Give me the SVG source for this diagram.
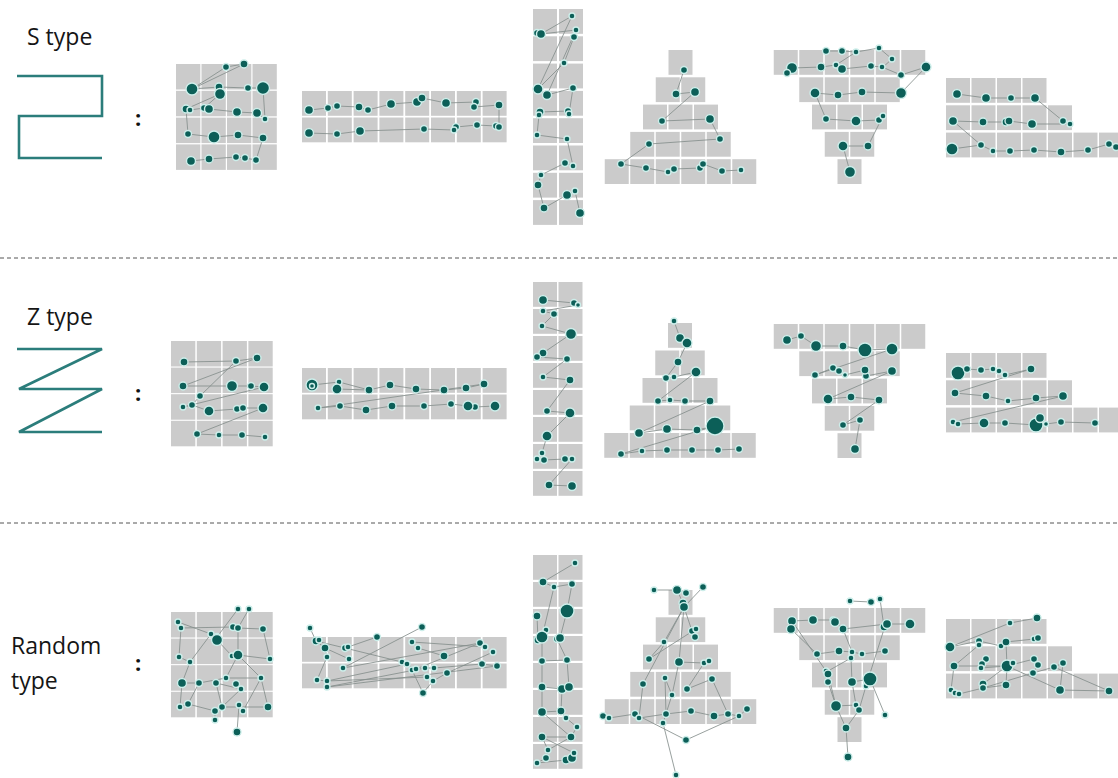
<svg xmlns="http://www.w3.org/2000/svg" xmlns:xlink="http://www.w3.org/1999/xlink" width="1118" height="778" viewBox="0 0 1118 778">
<style>
.lbl{font-family:"Open Sans","Noto Sans","Liberation Sans",sans-serif;font-size:23px;fill:#151515}
.col{font-family:"Open Sans","Noto Sans","Liberation Sans",sans-serif;font-size:22px;font-weight:bold;fill:#111}
.icon{fill:none;stroke:#2b7d7b;stroke-width:2.6;stroke-linejoin:miter}
.sep{stroke:#555;stroke-width:1;stroke-dasharray:4 3}
.k{fill:#cbcbcb}
.ln{fill:none;stroke:#858f8d;stroke-width:0.85}
.nd circle{fill:#0c5f58;stroke:#cdeeea;stroke-width:1.4}
</style>
<defs>
<rect id="c" class="k" width="24" height="24.8"/>
<rect id="t" class="k" width="24.3" height="25.5"/>
</defs>
<rect width="1118" height="778" fill="#fff"/>

<g id="labels">
<text class="lbl" x="27" y="45">S type</text>
<text class="lbl" x="27" y="325">Z type</text>
<text class="lbl" x="11" y="654">Random</text>
<text class="lbl" x="11" y="689">type</text>
<text class="col" x="135" y="126">:</text>
<text class="col" x="135" y="401">:</text>
<text class="col" x="135" y="671">:</text>
</g>

<g id="icons">
<polyline class="icon" points="17,76 102,76 102,116 19,116 19,158 102,158"/>
<polyline class="icon" points="17,349 102,349 19,389 102,389 19,432 102,432"/>
</g>

<g id="separators">
<line class="sep" x1="0" y1="258" x2="1118" y2="258"/>
<line class="sep" x1="0" y1="523" x2="1118" y2="523"/>
</g>

<g id="grids">
<g id="grid-s-square">
<use href="#t" x="176" y="64"/><use href="#t" x="201.5" y="64"/><use href="#t" x="227" y="64"/><use href="#t" x="252.5" y="64"/>
<use href="#t" x="176" y="90.8"/><use href="#t" x="201.5" y="90.8"/><use href="#t" x="227" y="90.8"/><use href="#t" x="252.5" y="90.8"/>
<use href="#t" x="176" y="117.6"/><use href="#t" x="201.5" y="117.6"/><use href="#t" x="227" y="117.6"/><use href="#t" x="252.5" y="117.6"/>
<use href="#t" x="176" y="144.4"/><use href="#t" x="201.5" y="144.4"/><use href="#t" x="227" y="144.4"/><use href="#t" x="252.5" y="144.4"/>
</g>
<g id="grid-s-row">
<use href="#c" x="302" y="91"/><use href="#c" x="327.8" y="91"/><use href="#c" x="353.6" y="91"/><use href="#c" x="379.4" y="91"/><use href="#c" x="405.2" y="91"/><use href="#c" x="431" y="91"/><use href="#c" x="456.8" y="91"/><use href="#c" x="482.6" y="91"/>
<use href="#c" x="302" y="117.5"/><use href="#c" x="327.8" y="117.5"/><use href="#c" x="353.6" y="117.5"/><use href="#c" x="379.4" y="117.5"/><use href="#c" x="405.2" y="117.5"/><use href="#c" x="431" y="117.5"/><use href="#c" x="456.8" y="117.5"/><use href="#c" x="482.6" y="117.5"/>
</g>
<g id="grid-s-column">
<use href="#c" x="533" y="9"/><use href="#c" x="559" y="9"/><use href="#c" x="533" y="36.3"/><use href="#c" x="559" y="36.3"/>
<use href="#c" x="533" y="63.6"/><use href="#c" x="559" y="63.6"/><use href="#c" x="533" y="90.9"/><use href="#c" x="559" y="90.9"/>
<use href="#c" x="533" y="118.2"/><use href="#c" x="559" y="118.2"/><use href="#c" x="533" y="145.5"/><use href="#c" x="559" y="145.5"/>
<use href="#c" x="533" y="172.8"/><use href="#c" x="559" y="172.8"/><use href="#c" x="533" y="200.1"/><use href="#c" x="559" y="200.1"/>
</g>
<g id="grid-s-pyramid">
<use href="#c" x="668.5" y="50"/>
<use href="#c" x="655.75" y="77.3"/><use href="#c" x="681.25" y="77.3"/>
<use href="#c" x="643" y="104.6"/><use href="#c" x="668.5" y="104.6"/><use href="#c" x="694" y="104.6"/>
<use href="#c" x="630.25" y="131.9"/><use href="#c" x="655.75" y="131.9"/><use href="#c" x="681.25" y="131.9"/><use href="#c" x="706.75" y="131.9"/>
<use href="#c" x="604.75" y="159.2"/><use href="#c" x="630.25" y="159.2"/><use href="#c" x="655.75" y="159.2"/><use href="#c" x="681.25" y="159.2"/><use href="#c" x="706.75" y="159.2"/><use href="#c" x="732.25" y="159.2"/>
</g>
<g id="grid-s-inverted">
<use href="#c" x="773.75" y="50"/><use href="#c" x="799.25" y="50"/><use href="#c" x="824.75" y="50"/><use href="#c" x="850.25" y="50"/><use href="#c" x="875.75" y="50"/><use href="#c" x="901.25" y="50"/>
<use href="#c" x="799.25" y="77.3"/><use href="#c" x="824.75" y="77.3"/><use href="#c" x="850.25" y="77.3"/><use href="#c" x="875.75" y="77.3"/>
<use href="#c" x="812" y="104.6"/><use href="#c" x="837.5" y="104.6"/><use href="#c" x="863" y="104.6"/>
<use href="#c" x="824.75" y="131.9"/><use href="#c" x="850.25" y="131.9"/>
<use href="#c" x="837.5" y="159.2"/>
</g>
<g id="grid-s-stairs">
<use href="#c" x="946" y="78"/><use href="#c" x="971.5" y="78"/><use href="#c" x="997" y="78"/><use href="#c" x="1022.5" y="78"/>
<use href="#c" x="946" y="105.3"/><use href="#c" x="971.5" y="105.3"/><use href="#c" x="997" y="105.3"/><use href="#c" x="1022.5" y="105.3"/><use href="#c" x="1048" y="105.3"/>
<use href="#c" x="946" y="132.6"/><use href="#c" x="971.5" y="132.6"/><use href="#c" x="997" y="132.6"/><use href="#c" x="1022.5" y="132.6"/><use href="#c" x="1048" y="132.6"/><use href="#c" x="1073.5" y="132.6"/><use href="#c" x="1099" y="132.6"/>
</g>

<g id="grid-z-square">
<use href="#t" x="171" y="341"/><use href="#t" x="196.8" y="341"/><use href="#t" x="222.6" y="341"/><use href="#t" x="248.4" y="341"/>
<use href="#t" x="171" y="367.6"/><use href="#t" x="196.8" y="367.6"/><use href="#t" x="222.6" y="367.6"/><use href="#t" x="248.4" y="367.6"/>
<use href="#t" x="171" y="394.2"/><use href="#t" x="196.8" y="394.2"/><use href="#t" x="222.6" y="394.2"/><use href="#t" x="248.4" y="394.2"/>
<use href="#t" x="171" y="420.8"/><use href="#t" x="196.8" y="420.8"/><use href="#t" x="222.6" y="420.8"/><use href="#t" x="248.4" y="420.8"/>
</g>
<g id="grid-z-row">
<use href="#c" x="302" y="368"/><use href="#c" x="327.8" y="368"/><use href="#c" x="353.6" y="368"/><use href="#c" x="379.4" y="368"/><use href="#c" x="405.2" y="368"/><use href="#c" x="431" y="368"/><use href="#c" x="456.8" y="368"/><use href="#c" x="482.6" y="368"/>
<use href="#c" x="302" y="394.5"/><use href="#c" x="327.8" y="394.5"/><use href="#c" x="353.6" y="394.5"/><use href="#c" x="379.4" y="394.5"/><use href="#c" x="405.2" y="394.5"/><use href="#c" x="431" y="394.5"/><use href="#c" x="456.8" y="394.5"/><use href="#c" x="482.6" y="394.5"/>
</g>
<g id="grid-z-column">
<use href="#c" x="533" y="282"/><use href="#c" x="558.5" y="282"/><use href="#c" x="533" y="309"/><use href="#c" x="558.5" y="309"/>
<use href="#c" x="533" y="336"/><use href="#c" x="558.5" y="336"/><use href="#c" x="533" y="363"/><use href="#c" x="558.5" y="363"/>
<use href="#c" x="533" y="390"/><use href="#c" x="558.5" y="390"/><use href="#c" x="533" y="417"/><use href="#c" x="558.5" y="417"/>
<use href="#c" x="533" y="444"/><use href="#c" x="558.5" y="444"/><use href="#c" x="533" y="471"/><use href="#c" x="558.5" y="471"/>
</g>
<g id="grid-z-pyramid">
<use href="#c" x="668" y="323"/>
<use href="#c" x="655.25" y="350.5"/><use href="#c" x="680.75" y="350.5"/>
<use href="#c" x="642.5" y="378"/><use href="#c" x="668" y="378"/><use href="#c" x="693.5" y="378"/>
<use href="#c" x="629.75" y="405.5"/><use href="#c" x="655.25" y="405.5"/><use href="#c" x="680.75" y="405.5"/><use href="#c" x="706.25" y="405.5"/>
<use href="#c" x="604.25" y="433"/><use href="#c" x="629.75" y="433"/><use href="#c" x="655.25" y="433"/><use href="#c" x="680.75" y="433"/><use href="#c" x="706.25" y="433"/><use href="#c" x="731.75" y="433"/>
</g>
<g id="grid-z-inverted">
<use href="#c" x="773.75" y="324"/><use href="#c" x="799.25" y="324"/><use href="#c" x="824.75" y="324"/><use href="#c" x="850.25" y="324"/><use href="#c" x="875.75" y="324"/><use href="#c" x="901.25" y="324"/>
<use href="#c" x="799.25" y="351.3"/><use href="#c" x="824.75" y="351.3"/><use href="#c" x="850.25" y="351.3"/><use href="#c" x="875.75" y="351.3"/>
<use href="#c" x="812" y="378.6"/><use href="#c" x="837.5" y="378.6"/><use href="#c" x="863" y="378.6"/>
<use href="#c" x="824.75" y="405.9"/><use href="#c" x="850.25" y="405.9"/>
<use href="#c" x="837.5" y="433.2"/>
</g>
<g id="grid-z-stairs">
<use href="#c" x="946" y="353"/><use href="#c" x="971.5" y="353"/><use href="#c" x="997" y="353"/><use href="#c" x="1022.5" y="353"/>
<use href="#c" x="946" y="380.3"/><use href="#c" x="971.5" y="380.3"/><use href="#c" x="997" y="380.3"/><use href="#c" x="1022.5" y="380.3"/><use href="#c" x="1048" y="380.3"/>
<use href="#c" x="946" y="407.6"/><use href="#c" x="971.5" y="407.6"/><use href="#c" x="997" y="407.6"/><use href="#c" x="1022.5" y="407.6"/><use href="#c" x="1048" y="407.6"/><use href="#c" x="1073.5" y="407.6"/><use href="#c" x="1099" y="407.6"/>
</g>

<g id="grid-r-square">
<use href="#t" x="171" y="612"/><use href="#t" x="196.8" y="612"/><use href="#t" x="222.6" y="612"/><use href="#t" x="248.4" y="612"/>
<use href="#t" x="171" y="638.6"/><use href="#t" x="196.8" y="638.6"/><use href="#t" x="222.6" y="638.6"/><use href="#t" x="248.4" y="638.6"/>
<use href="#t" x="171" y="665.2"/><use href="#t" x="196.8" y="665.2"/><use href="#t" x="222.6" y="665.2"/><use href="#t" x="248.4" y="665.2"/>
<use href="#t" x="171" y="691.8"/><use href="#t" x="196.8" y="691.8"/><use href="#t" x="222.6" y="691.8"/><use href="#t" x="248.4" y="691.8"/>
</g>
<g id="grid-r-row">
<use href="#c" x="302" y="637"/><use href="#c" x="327.8" y="637"/><use href="#c" x="353.6" y="637"/><use href="#c" x="379.4" y="637"/><use href="#c" x="405.2" y="637"/><use href="#c" x="431" y="637"/><use href="#c" x="456.8" y="637"/><use href="#c" x="482.6" y="637"/>
<use href="#c" x="302" y="663.5"/><use href="#c" x="327.8" y="663.5"/><use href="#c" x="353.6" y="663.5"/><use href="#c" x="379.4" y="663.5"/><use href="#c" x="405.2" y="663.5"/><use href="#c" x="431" y="663.5"/><use href="#c" x="456.8" y="663.5"/><use href="#c" x="482.6" y="663.5"/>
</g>
<g id="grid-r-column">
<use href="#c" x="533" y="555"/><use href="#c" x="558.5" y="555"/><use href="#c" x="533" y="582"/><use href="#c" x="558.5" y="582"/>
<use href="#c" x="533" y="609"/><use href="#c" x="558.5" y="609"/><use href="#c" x="533" y="636"/><use href="#c" x="558.5" y="636"/>
<use href="#c" x="533" y="663"/><use href="#c" x="558.5" y="663"/><use href="#c" x="533" y="690"/><use href="#c" x="558.5" y="690"/>
<use href="#c" x="533" y="717"/><use href="#c" x="558.5" y="717"/><use href="#c" x="533" y="744"/><use href="#c" x="558.5" y="744"/>
</g>
<g id="grid-r-pyramid">
<use href="#c" x="668.5" y="590"/>
<use href="#c" x="655.75" y="617.3"/><use href="#c" x="681.25" y="617.3"/>
<use href="#c" x="643" y="644.6"/><use href="#c" x="668.5" y="644.6"/><use href="#c" x="694" y="644.6"/>
<use href="#c" x="630.25" y="671.9"/><use href="#c" x="655.75" y="671.9"/><use href="#c" x="681.25" y="671.9"/><use href="#c" x="706.75" y="671.9"/>
<use href="#c" x="604.75" y="699.2"/><use href="#c" x="630.25" y="699.2"/><use href="#c" x="655.75" y="699.2"/><use href="#c" x="681.25" y="699.2"/><use href="#c" x="706.75" y="699.2"/><use href="#c" x="732.25" y="699.2"/>
</g>
<g id="grid-r-inverted">
<use href="#c" x="773.75" y="608"/><use href="#c" x="799.25" y="608"/><use href="#c" x="824.75" y="608"/><use href="#c" x="850.25" y="608"/><use href="#c" x="875.75" y="608"/><use href="#c" x="901.25" y="608"/>
<use href="#c" x="799.25" y="635.3"/><use href="#c" x="824.75" y="635.3"/><use href="#c" x="850.25" y="635.3"/><use href="#c" x="875.75" y="635.3"/>
<use href="#c" x="812" y="662.6"/><use href="#c" x="837.5" y="662.6"/><use href="#c" x="863" y="662.6"/>
<use href="#c" x="824.75" y="689.9"/><use href="#c" x="850.25" y="689.9"/>
<use href="#c" x="837.5" y="717.2"/>
</g>
<g id="grid-r-stairs">
<use href="#c" x="946" y="619"/><use href="#c" x="971.5" y="619"/><use href="#c" x="997" y="619"/><use href="#c" x="1022.5" y="619"/>
<use href="#c" x="946" y="646.3"/><use href="#c" x="971.5" y="646.3"/><use href="#c" x="997" y="646.3"/><use href="#c" x="1022.5" y="646.3"/><use href="#c" x="1048" y="646.3"/>
<use href="#c" x="946" y="673.6"/><use href="#c" x="971.5" y="673.6"/><use href="#c" x="997" y="673.6"/><use href="#c" x="1022.5" y="673.6"/><use href="#c" x="1048" y="673.6"/><use href="#c" x="1073.5" y="673.6"/><use href="#c" x="1099" y="673.6"/>
</g>
</g>

<g id="connectors" class="ln">
<path d="M226,67 L244,64 L192,89 L219,87 L248,88 L263,88 L265,119 L257,113 L237,112 L209,109 L204,108 L190,110 L186,109 L188,134 L214,137 L238,135 L263,138 L256,160 L245,158 L236,157 L209,159 L191,161 M226,67 L192,89 M220,94 L186,109 M220,94 L204,108"/>
<path d="M309,110 L328,108 L337,106 L359,107 L368,110 L391,104 L417,102 L422,98 L446,103 L476,102 L474,107 L499,105 L499,127 L496,126 L477,125 L456,127 L454,130 L424,129 L360,131 L337,134 L309,133"/>
<path d="M537,33 L541,34 L576,30 L574,37 L564,63 L538,89 M541,34 L572,16 L538,89 L547,95 L573,88 L569,114 L568,111 L540,112 L539,115 L537,135 L567,139 L573,166 L565,163 L541,175 L538,185 L544,208 L567,195 L575,191 L580,213 M576,30 L547,95"/>
<path d="M684,70 L676,94 L695,92 L662,121 L710,119 L720,139 L649,144 L621,164 L646,168 L668,172 L674,169 L700,168 L703,164 L722,171 L741,170"/>
<path d="M826,51 L842,51 L856,52 L879,48 L892,59 L882,68 M856,52 L836,65 M787,73 L792,68 L821,67 L836,65 L842,69 L871,66 L882,67 L901,75 L926,67 L901,93 L862,92 L838,95 L815,93 L826,119 L856,121 L879,120 L883,116 L868,146 L843,146 L850,172"/>
<path d="M957,94 L986,98 L1011,98 L1035,98 L1063,121 L1070,124 L1032,124 L1009,121 L1006,122 L983,122 L953,121 L981,145 L952,149 M981,145 L993,151 L1010,151 L1034,150 L1061,152 L1088,150 L1109,144 L1116,147"/>

<path d="M184,362 L236,361 L257,358 L183,386 L232,386 L251,386 L264,387 L183,407 L192,405 L209,411 L237,409 L243,408 L263,408 L197,434 L219,435 L242,435 L265,437 M236,361 L200,396 L192,405"/>
<path d="M312,385 L339,382 L337,389 L369,390 L390,385 L416,389 L444,390 L466,388 L484,384 L318,408 L340,406 L366,410 L392,406 L424,406 L451,404 L468,406 L475,407 L495,406 M339,382 L369,390"/>
<path d="M543,300 L574,303 L578,305 L543,311 L554,314 L542,326 L571,334 L543,353 L537,357 L567,359 L543,377 L570,380 L547,411 L570,413 L547,436 L542,453 L537,459 L544,460 L565,459 L572,459 L549,485 L572,486"/>
<path d="M674,321 L680,338 L687,343 L678,362 L666,378 L674,377 L696,372 L658,401 L670,400 L685,401 L710,401 L639,433 L667,429 L697,430 L715,426 L621,454 L642,451 L667,450 L692,450 L718,450 L739,449"/>
<path d="M787,340 L801,336 L816,346 L843,346 L865,350 L892,349 L815,375 L833,368 L839,371 L845,375 L865,370 L866,376 L892,371 L828,399 L851,397 L879,400 L843,425 L860,420 L855,449"/>
<path d="M958,373 L967,369 L981,370 L993,369 L999,371 L1005,375 L1031,369 L955,393 L986,396 L1008,401 L1036,398 L1063,396 L953,422 L958,424 L984,423 L1005,423 L1036,425 L1040,418 L1046,424 L1061,422 L1095,423"/>

<path d="M178,622 L181,628 L233,627 L238,628 L263,629 L270,659 L238,655 L232,656 L217,640 L211,634 L178,622 M181,628 L179,657 L190,662 L211,634 M238,609 L217,637 M249,609 L238,628 L238,655 L226,678 L199,683 L182,683 L180,707 L188,704 L215,711 L215,720 M238,655 L261,678 L243,711 L239,705 L237,732 M226,678 L261,678 M216,683 L241,689 L236,684 M216,683 L222,707 L268,707 L261,678 M190,662 L182,683 M199,683 L188,704 M222,707 L241,689"/>
<path d="M310,628 L316,641 L325,648 L327,657 L317,680 L327,681 L407,664 L412,670 L423,693 L433,681 L447,673 L493,652 M316,641 L345,648 L402,662 L416,669 L480,643 L485,647 L412,642 L418,648 L444,656 M325,648 L349,659 M327,687 L425,668 L434,668 L482,664 L497,666 M343,668 L422,627 M348,647 L377,637 M327,681 L427,677 M343,668 L480,643 M327,687 L497,666"/>
<path d="M575,563 L543,582 L554,587 L572,584 L567,611 L560,638 L557,639 L567,660 L569,687 L562,689 L561,711 L566,718 L577,727 L571,737 L542,737 L548,750 L546,758 L537,763 M554,587 L542,637 L538,640 L537,616 M542,637 L542,661 L542,687 L542,712 M542,661 L567,660 M542,687 L562,689 M542,712 L561,711 M546,630 L542,637 M542,737 L574,753 L572,758 L566,760 M542,712 L571,737 M571,737 L548,750 M537,763 L566,760"/>
<path d="M654,590 L677,590 L686,593 M703,587 L684,607 L683,603 L677,590 M684,607 L664,642 L649,659 M684,607 L692,631 L696,629 L695,637 M684,607 L679,662 L672,695 L663,723 L676,775 M684,607 L643,684 L639,718 L635,714 L609,718 L603,716 M696,629 L649,659 M679,662 L704,663 L709,661 M704,663 L687,689 L712,679 L728,714 L739,716 L747,709 M665,678 L666,714 L691,711 L714,716 L728,714 M639,718 L666,714 M686,740 L739,716 M686,740 L635,714 M672,695 L665,678"/>
<path d="M850,601 L871,602 M880,599 L884,627 L887,624 L910,624 M792,621 L813,620 L833,620 L835,622 L843,629 L887,624 M791,629 L817,654 M792,621 L828,674 L836,706 L846,728 L848,757 M817,654 L839,651 L852,652 L862,654 L885,651 M852,652 L851,658 L852,682 L870,679 L885,715 M851,658 L828,671 M852,682 L856,705 L859,710 L846,728 M885,626 L866,686 L859,710 M826,671 L828,682 L836,706 L856,705 M870,679 L866,686 M843,629 L852,652"/>
<path d="M1010,623 L1037,618 M950,647 L1010,623 M950,647 L979,641 L1001,646 L1006,642 L1034,639 L1038,638 M979,645 L954,666 L951,690 L955,693 L959,694 L983,688 L1006,685 L1007,666 M954,666 L1007,666 L1034,659 L1038,665 L1033,673 L1054,667 L1063,663 L1060,690 L1109,691 M986,659 L982,664 L981,668 L1007,666 L1013,663 M1007,666 L1060,690 M983,684 L1007,666 M1006,642 L1007,666 M1033,673 L983,688 M1054,667 L1109,691"/>
</g>

<g id="nodes" class="nd">
<g id="nodes-s-square">
<circle cx="226" cy="67" r="3.5"/><circle cx="244" cy="64" r="4"/><circle cx="192" cy="89" r="6"/><circle cx="219" cy="87" r="4"/><circle cx="220" cy="94" r="5.5"/><circle cx="248" cy="88" r="3.5"/><circle cx="263" cy="88" r="6.5"/>
<circle cx="186" cy="109" r="4"/><circle cx="190" cy="110" r="3"/><circle cx="204" cy="108" r="3.5"/><circle cx="209" cy="109" r="4.5"/><circle cx="237" cy="112" r="4.5"/><circle cx="257" cy="113" r="4.5"/><circle cx="265" cy="119" r="3"/>
<circle cx="188" cy="134" r="3.5"/><circle cx="214" cy="137" r="6"/><circle cx="238" cy="135" r="4"/><circle cx="263" cy="138" r="4"/>
<circle cx="191" cy="161" r="4.5"/><circle cx="209" cy="159" r="4"/><circle cx="236" cy="157" r="3.5"/><circle cx="245" cy="158" r="3.5"/><circle cx="256" cy="160" r="3.5"/>
</g>
<g id="nodes-s-row">
<circle cx="309" cy="110" r="4.5"/><circle cx="328" cy="108" r="3.5"/><circle cx="337" cy="106" r="3.5"/><circle cx="359" cy="107" r="4"/><circle cx="368" cy="110" r="3.5"/><circle cx="391" cy="104" r="4.5"/><circle cx="417" cy="102" r="4.5"/><circle cx="422" cy="98" r="4"/><circle cx="446" cy="103" r="4.5"/><circle cx="476" cy="102" r="3.5"/><circle cx="474" cy="107" r="3.5"/><circle cx="499" cy="105" r="4"/>
<circle cx="309" cy="133" r="4.5"/><circle cx="337" cy="134" r="3.5"/><circle cx="360" cy="131" r="4.5"/><circle cx="424" cy="129" r="3.5"/><circle cx="456" cy="127" r="3.5"/><circle cx="454" cy="130" r="3"/><circle cx="477" cy="125" r="3.5"/><circle cx="496" cy="126" r="3.5"/><circle cx="499" cy="127" r="3.5"/>
</g>
<g id="nodes-s-column">
<circle cx="572" cy="16" r="3"/><circle cx="537" cy="33" r="3.5"/><circle cx="541" cy="34" r="4.5"/><circle cx="576" cy="30" r="3"/><circle cx="574" cy="37" r="3.5"/><circle cx="564" cy="63" r="3"/><circle cx="538" cy="89" r="5"/><circle cx="547" cy="95" r="4.5"/><circle cx="573" cy="88" r="3.5"/>
<circle cx="540" cy="112" r="4"/><circle cx="539" cy="115" r="3"/><circle cx="568" cy="111" r="3.5"/><circle cx="569" cy="114" r="3"/><circle cx="537" cy="135" r="3"/><circle cx="567" cy="139" r="3"/><circle cx="565" cy="163" r="3.5"/><circle cx="573" cy="166" r="3"/>
<circle cx="541" cy="175" r="3"/><circle cx="538" cy="185" r="4"/><circle cx="567" cy="195" r="4.5"/><circle cx="575" cy="191" r="3"/><circle cx="544" cy="208" r="4"/><circle cx="580" cy="213" r="4.5"/>
</g>
<g id="nodes-s-pyramid">
<circle cx="684" cy="70" r="3.5"/><circle cx="676" cy="94" r="4"/><circle cx="695" cy="92" r="4.5"/><circle cx="662" cy="121" r="3.5"/><circle cx="710" cy="119" r="4.5"/><circle cx="720" cy="139" r="3.5"/><circle cx="649" cy="144" r="3.5"/>
<circle cx="621" cy="164" r="3.5"/><circle cx="646" cy="168" r="3.5"/><circle cx="668" cy="172" r="3"/><circle cx="674" cy="169" r="3.5"/><circle cx="700" cy="168" r="3.5"/><circle cx="703" cy="164" r="3.5"/><circle cx="722" cy="171" r="3.5"/><circle cx="741" cy="170" r="3"/>
</g>
<g id="nodes-s-inverted">
<circle cx="826" cy="51" r="3.5"/><circle cx="842" cy="51" r="3.5"/><circle cx="856" cy="52" r="3"/><circle cx="879" cy="48" r="3"/><circle cx="892" cy="59" r="3"/>
<circle cx="792" cy="68" r="5.5"/><circle cx="787" cy="73" r="3.5"/><circle cx="821" cy="67" r="4"/><circle cx="836" cy="65" r="3"/><circle cx="842" cy="69" r="4.5"/><circle cx="871" cy="66" r="3.5"/><circle cx="882" cy="67" r="3"/><circle cx="901" cy="75" r="3.5"/><circle cx="926" cy="67" r="5"/>
<circle cx="815" cy="93" r="5"/><circle cx="838" cy="95" r="4"/><circle cx="862" cy="92" r="4"/><circle cx="901" cy="93" r="5.5"/>
<circle cx="826" cy="119" r="3.5"/><circle cx="856" cy="121" r="5"/><circle cx="879" cy="120" r="3.5"/><circle cx="883" cy="116" r="3"/>
<circle cx="843" cy="146" r="5"/><circle cx="868" cy="146" r="4"/><circle cx="850" cy="172" r="5.5"/>
</g>
<g id="nodes-s-stairs">
<circle cx="957" cy="94" r="4.5"/><circle cx="986" cy="98" r="4.5"/><circle cx="1011" cy="98" r="3.5"/><circle cx="1035" cy="98" r="4.5"/>
<circle cx="1063" cy="121" r="3.5"/><circle cx="1070" cy="124" r="3"/><circle cx="953" cy="121" r="4.5"/><circle cx="983" cy="122" r="4"/><circle cx="1006" cy="122" r="4"/><circle cx="1009" cy="121" r="4"/><circle cx="1032" cy="124" r="4.5"/>
<circle cx="952" cy="149" r="6"/><circle cx="981" cy="145" r="3.5"/><circle cx="993" cy="151" r="3"/><circle cx="1010" cy="151" r="3.5"/><circle cx="1034" cy="150" r="3.5"/><circle cx="1061" cy="152" r="4"/><circle cx="1088" cy="150" r="3.5"/><circle cx="1109" cy="144" r="3.5"/><circle cx="1116" cy="147" r="3.5"/>
</g>

<g id="nodes-z-square">
<circle cx="184" cy="362" r="4"/><circle cx="236" cy="361" r="3.5"/><circle cx="257" cy="358" r="4"/>
<circle cx="183" cy="386" r="4"/><circle cx="232" cy="386" r="5.5"/><circle cx="251" cy="386" r="3.5"/><circle cx="264" cy="387" r="5"/><circle cx="200" cy="396" r="3.5"/>
<circle cx="183" cy="407" r="3"/><circle cx="192" cy="405" r="3.5"/><circle cx="209" cy="411" r="5"/><circle cx="237" cy="409" r="3.5"/><circle cx="243" cy="408" r="3.5"/><circle cx="263" cy="408" r="5"/>
<circle cx="197" cy="434" r="3.5"/><circle cx="219" cy="435" r="3"/><circle cx="242" cy="435" r="3.5"/><circle cx="265" cy="437" r="3"/>
</g>
<g id="nodes-z-row">
<circle cx="312" cy="385" r="6"/><circle cx="312" cy="386" r="2.5"/><circle cx="339" cy="382" r="3"/><circle cx="337" cy="389" r="5"/><circle cx="369" cy="390" r="4"/><circle cx="390" cy="385" r="4"/><circle cx="416" cy="389" r="4"/><circle cx="444" cy="390" r="4"/><circle cx="466" cy="388" r="4"/><circle cx="484" cy="384" r="4"/>
<circle cx="318" cy="408" r="3"/><circle cx="340" cy="406" r="3.5"/><circle cx="366" cy="410" r="4"/><circle cx="392" cy="406" r="4"/><circle cx="424" cy="406" r="3.5"/><circle cx="451" cy="404" r="3.5"/><circle cx="475" cy="407" r="3.5"/><circle cx="468" cy="406" r="5"/><circle cx="495" cy="406" r="5"/>
</g>
<g id="nodes-z-column">
<circle cx="543" cy="300" r="4.5"/><circle cx="574" cy="303" r="3.5"/><circle cx="578" cy="305" r="2.5"/><circle cx="543" cy="311" r="3"/><circle cx="554" cy="314" r="3.5"/><circle cx="542" cy="326" r="3"/><circle cx="571" cy="334" r="5.5"/>
<circle cx="543" cy="353" r="4"/><circle cx="537" cy="357" r="3.5"/><circle cx="567" cy="359" r="3.5"/><circle cx="543" cy="377" r="3"/><circle cx="570" cy="380" r="4"/>
<circle cx="547" cy="411" r="3.5"/><circle cx="570" cy="413" r="5"/><circle cx="547" cy="436" r="5"/>
<circle cx="542" cy="453" r="3"/><circle cx="537" cy="459" r="3"/><circle cx="544" cy="460" r="3.5"/><circle cx="565" cy="459" r="3.5"/><circle cx="572" cy="459" r="3"/><circle cx="549" cy="485" r="4"/><circle cx="572" cy="486" r="4.5"/>
</g>
<g id="nodes-z-pyramid">
<circle cx="674" cy="321" r="3"/><circle cx="680" cy="338" r="4.5"/><circle cx="687" cy="343" r="5"/><circle cx="678" cy="362" r="4"/><circle cx="666" cy="378" r="3.5"/><circle cx="674" cy="377" r="3"/><circle cx="696" cy="372" r="5"/>
<circle cx="658" cy="401" r="3.5"/><circle cx="670" cy="400" r="3"/><circle cx="685" cy="401" r="3.5"/><circle cx="710" cy="401" r="4"/>
<circle cx="639" cy="433" r="4.5"/><circle cx="667" cy="429" r="4.5"/><circle cx="697" cy="430" r="4"/><circle cx="715" cy="426" r="9"/>
<circle cx="621" cy="454" r="3.5"/><circle cx="642" cy="451" r="3"/><circle cx="667" cy="450" r="3.5"/><circle cx="692" cy="450" r="3.5"/><circle cx="718" cy="450" r="3.5"/><circle cx="739" cy="449" r="3.5"/>
</g>
<g id="nodes-z-inverted">
<circle cx="787" cy="340" r="4.5"/><circle cx="801" cy="336" r="3.5"/><circle cx="816" cy="346" r="5.5"/><circle cx="843" cy="346" r="4"/><circle cx="865" cy="350" r="7"/><circle cx="892" cy="349" r="6"/>
<circle cx="815" cy="375" r="3.5"/><circle cx="833" cy="368" r="3.5"/><circle cx="839" cy="371" r="3.5"/><circle cx="845" cy="375" r="2.5"/><circle cx="866" cy="376" r="3.5"/><circle cx="865" cy="370" r="4"/><circle cx="892" cy="371" r="4.5"/>
<circle cx="828" cy="399" r="5"/><circle cx="851" cy="397" r="4"/><circle cx="879" cy="400" r="4"/>
<circle cx="843" cy="425" r="3.5"/><circle cx="860" cy="420" r="3.5"/><circle cx="855" cy="449" r="4.5"/>
</g>
<g id="nodes-z-stairs">
<circle cx="958" cy="373" r="7"/><circle cx="967" cy="369" r="3.5"/><circle cx="981" cy="370" r="3.5"/><circle cx="993" cy="369" r="3"/><circle cx="999" cy="371" r="3"/><circle cx="1005" cy="375" r="3"/><circle cx="1031" cy="369" r="4"/>
<circle cx="955" cy="393" r="4"/><circle cx="986" cy="396" r="4"/><circle cx="1008" cy="401" r="3"/><circle cx="1036" cy="398" r="4"/><circle cx="1063" cy="396" r="4.5"/>
<circle cx="953" cy="422" r="3"/><circle cx="958" cy="424" r="3"/><circle cx="984" cy="423" r="5"/><circle cx="1005" cy="423" r="3.5"/><circle cx="1036" cy="425" r="7"/><circle cx="1040" cy="418" r="4.5"/><circle cx="1046" cy="424" r="2.5"/><circle cx="1061" cy="422" r="3.5"/><circle cx="1095" cy="423" r="3.5"/>
</g>

<g id="nodes-r-square">
<circle cx="238" cy="609" r="3"/><circle cx="249" cy="609" r="3"/><circle cx="178" cy="622" r="3"/><circle cx="181" cy="628" r="3"/><circle cx="211" cy="634" r="3"/><circle cx="217" cy="637" r="3.5"/><circle cx="217" cy="640" r="5.5"/><circle cx="233" cy="627" r="3.5"/><circle cx="238" cy="628" r="3.5"/><circle cx="263" cy="629" r="3.5"/>
<circle cx="179" cy="657" r="3"/><circle cx="190" cy="662" r="3"/><circle cx="232" cy="656" r="3"/><circle cx="238" cy="655" r="5"/><circle cx="270" cy="659" r="3"/>
<circle cx="182" cy="683" r="4.5"/><circle cx="199" cy="683" r="3.5"/><circle cx="216" cy="683" r="3.5"/><circle cx="226" cy="678" r="3"/><circle cx="236" cy="684" r="3.5"/><circle cx="241" cy="689" r="3"/><circle cx="261" cy="678" r="3"/>
<circle cx="180" cy="707" r="3"/><circle cx="188" cy="704" r="3.5"/><circle cx="215" cy="711" r="3.5"/><circle cx="222" cy="707" r="3.5"/><circle cx="239" cy="705" r="3"/><circle cx="243" cy="711" r="3"/><circle cx="268" cy="707" r="4"/><circle cx="215" cy="720" r="3"/><circle cx="237" cy="732" r="4"/>
</g>
<g id="nodes-r-row">
<circle cx="310" cy="628" r="3"/><circle cx="316" cy="641" r="4"/><circle cx="319" cy="640" r="3"/><circle cx="325" cy="648" r="4"/><circle cx="327" cy="657" r="3"/><circle cx="345" cy="648" r="3.5"/><circle cx="348" cy="647" r="3"/><circle cx="349" cy="659" r="3"/><circle cx="343" cy="668" r="3"/>
<circle cx="317" cy="680" r="3"/><circle cx="327" cy="681" r="3"/><circle cx="327" cy="687" r="3"/><circle cx="377" cy="637" r="3.5"/><circle cx="422" cy="627" r="3.5"/><circle cx="412" cy="642" r="3"/><circle cx="418" cy="648" r="3"/><circle cx="444" cy="656" r="4"/>
<circle cx="402" cy="662" r="3"/><circle cx="407" cy="664" r="3"/><circle cx="412" cy="670" r="3"/><circle cx="416" cy="669" r="3"/><circle cx="425" cy="668" r="3"/><circle cx="434" cy="668" r="3"/><circle cx="427" cy="677" r="3"/><circle cx="433" cy="681" r="3"/><circle cx="447" cy="673" r="3.5"/><circle cx="423" cy="693" r="3.5"/>
<circle cx="480" cy="643" r="3.5"/><circle cx="485" cy="647" r="3"/><circle cx="493" cy="652" r="3"/><circle cx="482" cy="664" r="3.5"/><circle cx="497" cy="666" r="3.5"/>
</g>
<g id="nodes-r-column">
<circle cx="575" cy="563" r="3"/><circle cx="543" cy="582" r="4"/><circle cx="554" cy="587" r="3"/><circle cx="572" cy="584" r="3.5"/><circle cx="567" cy="611" r="7"/><circle cx="537" cy="616" r="4"/><circle cx="546" cy="630" r="3"/><circle cx="538" cy="640" r="4"/><circle cx="542" cy="637" r="6"/><circle cx="557" cy="639" r="3.5"/><circle cx="560" cy="638" r="4.5"/>
<circle cx="542" cy="661" r="3.5"/><circle cx="567" cy="660" r="3.5"/><circle cx="542" cy="687" r="4"/><circle cx="562" cy="689" r="4.5"/><circle cx="569" cy="687" r="4.5"/>
<circle cx="542" cy="712" r="4.5"/><circle cx="561" cy="711" r="4"/><circle cx="566" cy="718" r="3"/><circle cx="577" cy="727" r="3"/><circle cx="571" cy="737" r="4"/><circle cx="542" cy="737" r="4"/>
<circle cx="548" cy="750" r="3"/><circle cx="546" cy="758" r="3.5"/><circle cx="537" cy="763" r="3"/><circle cx="566" cy="760" r="4"/><circle cx="572" cy="758" r="4.5"/><circle cx="574" cy="753" r="3"/>
</g>
<g id="nodes-r-pyramid">
<circle cx="654" cy="590" r="3"/><circle cx="677" cy="590" r="4.5"/><circle cx="686" cy="593" r="3.5"/><circle cx="703" cy="587" r="3.5"/><circle cx="683" cy="603" r="4"/><circle cx="684" cy="607" r="4.5"/>
<circle cx="692" cy="631" r="3.5"/><circle cx="696" cy="629" r="3"/><circle cx="695" cy="637" r="3.5"/><circle cx="664" cy="642" r="3"/>
<circle cx="649" cy="659" r="3.5"/><circle cx="679" cy="662" r="4.5"/><circle cx="704" cy="663" r="3"/><circle cx="709" cy="661" r="3"/>
<circle cx="643" cy="684" r="3.5"/><circle cx="665" cy="678" r="3"/><circle cx="687" cy="689" r="3.5"/><circle cx="712" cy="679" r="3.5"/><circle cx="672" cy="695" r="3"/>
<circle cx="603" cy="716" r="3.5"/><circle cx="609" cy="718" r="3"/><circle cx="635" cy="714" r="3.5"/><circle cx="639" cy="718" r="3"/><circle cx="666" cy="714" r="3.5"/><circle cx="691" cy="711" r="3.5"/><circle cx="714" cy="716" r="4"/><circle cx="728" cy="714" r="3.5"/><circle cx="739" cy="716" r="3"/><circle cx="747" cy="709" r="3.5"/>
<circle cx="663" cy="723" r="3"/><circle cx="686" cy="740" r="3.5"/><circle cx="676" cy="775" r="3"/>
</g>
<g id="nodes-r-inverted">
<circle cx="850" cy="601" r="3"/><circle cx="871" cy="602" r="3.5"/><circle cx="880" cy="599" r="3"/>
<circle cx="792" cy="621" r="4.5"/><circle cx="791" cy="629" r="4.5"/><circle cx="813" cy="620" r="4.5"/><circle cx="833" cy="620" r="3"/><circle cx="835" cy="622" r="4.5"/><circle cx="843" cy="629" r="4"/><circle cx="884" cy="627" r="4"/><circle cx="887" cy="624" r="4.5"/><circle cx="910" cy="624" r="5"/>
<circle cx="817" cy="654" r="3.5"/><circle cx="839" cy="651" r="4"/><circle cx="852" cy="652" r="3"/><circle cx="851" cy="658" r="3"/><circle cx="862" cy="654" r="3"/><circle cx="885" cy="651" r="3.5"/>
<circle cx="826" cy="671" r="3"/><circle cx="828" cy="674" r="4"/><circle cx="828" cy="682" r="3.5"/><circle cx="852" cy="682" r="4.5"/><circle cx="866" cy="686" r="3"/><circle cx="870" cy="679" r="7"/>
<circle cx="836" cy="706" r="5.5"/><circle cx="856" cy="705" r="3"/><circle cx="859" cy="710" r="3.5"/><circle cx="885" cy="715" r="3"/><circle cx="846" cy="728" r="4"/><circle cx="848" cy="757" r="4"/>
</g>
<g id="nodes-r-stairs">
<circle cx="1037" cy="618" r="4"/><circle cx="1010" cy="623" r="3"/><circle cx="950" cy="647" r="5"/><circle cx="979" cy="641" r="3.5"/><circle cx="979" cy="645" r="3"/><circle cx="1001" cy="646" r="3"/><circle cx="1006" cy="642" r="4"/><circle cx="1034" cy="639" r="3"/><circle cx="1038" cy="638" r="3.5"/>
<circle cx="954" cy="666" r="4"/><circle cx="986" cy="659" r="3.5"/><circle cx="982" cy="664" r="3.5"/><circle cx="981" cy="668" r="3"/><circle cx="1007" cy="666" r="6"/><circle cx="1013" cy="663" r="3"/><circle cx="1034" cy="659" r="3.5"/><circle cx="1038" cy="665" r="3.5"/><circle cx="1033" cy="673" r="3.5"/><circle cx="1054" cy="667" r="3.5"/><circle cx="1063" cy="663" r="3.5"/>
<circle cx="951" cy="690" r="3"/><circle cx="955" cy="693" r="3"/><circle cx="959" cy="694" r="3"/><circle cx="983" cy="684" r="4"/><circle cx="983" cy="688" r="3.5"/><circle cx="1006" cy="685" r="4"/><circle cx="1060" cy="690" r="4.5"/><circle cx="1109" cy="691" r="4"/>
</g>
</g>
</svg>
